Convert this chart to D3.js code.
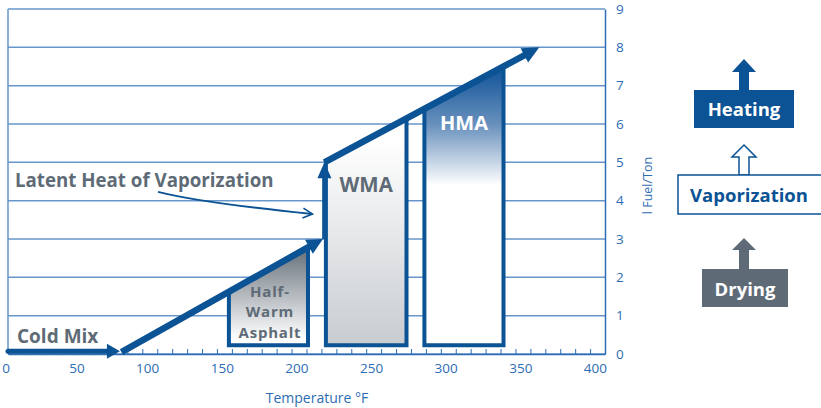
<!DOCTYPE html>
<html><head><meta charset="utf-8">
<script src="https://cdn.jsdelivr.net/npm/d3@7"></script>
<style>
body{margin:0;background:#fff;}
svg{display:block;font-family:"Open Sans",Lato,sans-serif;}
</style></head>
<body><svg id="c" width="821" height="408"></svg>
<script>
// ---- data ----
const xTicks = [0,50,100,150,200,250,300,350,400];
const yTicks = [0,1,2,3,4,5,6,7,8,9];
const xMinorTicks = d3.range(0,401,10);
const coldMix = [[0,0.07],[75,0.07]];
const lowerRamp = [[76,0.05],[211,3.0]];
const vaporRise = [[212,3.0],[212,5.0]];
const upperRamp = [[212,5.0],[356,8.0]];
const latentArrow = [[100.5,4.23],[130,4.1],[204,3.65]];
const boxNames = ["Half-Warm Asphalt","WMA","HMA"];
const boxX0 = [148,213,279];
const boxX1 = [201,267,332];
const boxTopL = [1.63,5.0,6.39];
const boxTopR = [2.81,6.14,7.50];
const boxBottom = 0.23;
const legendItems = ["Heating","Vaporization","Drying"];

// ---- layout ----
const svg = d3.select("#c");
const blue = "#0b5394", grid = "#6796cc", tickBlue = "#2d6db3", gray = "#5e6b76";
const x = d3.scaleLinear().domain([0,400]).range([8,605]);
const y = d3.scaleLinear().domain([0,9]).range([354,9]);

const defs = svg.append("defs");
function grad(id, y1, y2, stops){
  const g = defs.append("linearGradient").attr("id",id).attr("gradientUnits","userSpaceOnUse")
    .attr("x1",0).attr("x2",0).attr("y1",y1).attr("y2",y2);
  stops.forEach(s=>g.append("stop").attr("offset",s[0]).attr("stop-color",s[1]));
}
grad("gHWA", y(2.6), y(0.4), [[0,"#6f7982"],[1,"#ffffff"]]);
grad("gWMA", y(5.6), y(0.3), [[0,"#ffffff"],[1,"#c9cdd1"]]);
grad("gHMA", y(7.3), y(4.4), [[0,"#1a5a9c"],[0.45,"#6890bd"],[1,"#ffffff"]]);
const fills = ["url(#gHWA)","url(#gWMA)","url(#gHMA)"];

// gridlines
svg.append("g").selectAll("line").data(yTicks).join("line")
  .attr("x1",x(0)).attr("x2",x(400)).attr("y1",d=>y(d)).attr("y2",d=>y(d))
  .attr("stroke",grid).attr("stroke-width",1.5);
// left frame
svg.append("line").attr("x1",x(0)).attr("x2",x(0)).attr("y1",y(9)).attr("y2",y(0))
  .attr("stroke",grid).attr("stroke-width",1.5);

// x axis
const xa = svg.append("g").attr("transform",`translate(0,${y(0)})`)
  .call(d3.axisBottom(x).tickValues(xMinorTicks).tickSizeInner(-5).tickSizeOuter(0)
    .tickFormat(d=> xTicks.includes(d) ? d : ""));
xa.select(".domain").attr("stroke",tickBlue).attr("stroke-width",1.5);
xa.selectAll(".tick line").attr("stroke",tickBlue).attr("stroke-width",1);
xa.selectAll(".tick text").attr("fill",tickBlue).attr("font-size",13.5).attr("font-family","Open Sans")
  .attr("text-anchor","end").attr("dx",1.5).attr("y",9).attr("dy","0.71em");

// y axis (right)
const ya = svg.append("g").attr("transform",`translate(${x(400)},0)`)
  .call(d3.axisRight(y).tickValues(yTicks).tickSize(0).tickPadding(11));
ya.select(".domain").attr("stroke",tickBlue).attr("stroke-width",1.5);
ya.selectAll(".tick text").attr("fill",tickBlue).attr("font-size",13.5).attr("font-family","Open Sans");

// axis titles
svg.append("text").attr("x",317).attr("y",403).attr("text-anchor","middle")
  .attr("fill",tickBlue).attr("font-size",14).text("Temperature °F");
svg.append("text").attr("transform",`translate(652,${y(4.5)+4}) rotate(-90)`).attr("text-anchor","middle")
  .attr("fill",tickBlue).attr("font-size",12.5).text("l Fuel/Ton");

// boxes
svg.append("g").selectAll("path").data(boxNames).join("path")
  .attr("d",(d,i)=>`M${x(boxX0[i])},${y(boxBottom)}L${x(boxX0[i])},${y(boxTopL[i])}L${x(boxX1[i])},${y(boxTopR[i])}L${x(boxX1[i])},${y(boxBottom)}Z`)
  .attr("fill",(d,i)=>fills[i]).attr("stroke",blue).attr("stroke-width",4).attr("stroke-linejoin","miter");

// arrows
function arrow(pts, w, hl, hw, color){
  const p0 = [x(pts[0][0]),y(pts[0][1])], p1 = [x(pts[1][0]),y(pts[1][1])];
  const dx = p1[0]-p0[0], dy = p1[1]-p0[1], L = Math.hypot(dx,dy);
  const ux = dx/L, uy = dy/L;
  const b = [p1[0]-ux*hl, p1[1]-uy*hl];
  svg.append("line").attr("x1",p0[0]).attr("y1",p0[1]).attr("x2",b[0]+ux*2).attr("y2",b[1]+uy*2)
    .attr("stroke",color).attr("stroke-width",w);
  svg.append("path").attr("d",`M${p1[0]},${p1[1]}L${b[0]-uy*hw},${b[1]+ux*hw}L${b[0]+uy*hw},${b[1]-ux*hw}Z`)
    .attr("fill",color);
}
arrow(coldMix,5,13,7.5,blue);
arrow(lowerRamp,6.5,16,8,blue);
arrow(vaporRise,4.5,16,7,blue);
arrow(upperRamp,6.5,17,8,blue);
svg.append("circle").attr("cx",x(0)).attr("cy",y(coldMix[0][1])).attr("r",2.5).attr("fill",blue);

// latent heat arrow
const lp = latentArrow.map(d=>[x(d[0]),y(d[1])]);
svg.append("path").attr("d",`M${lp[0][0]},${lp[0][1]}Q${lp[1][0]},${lp[1][1]+6} ${lp[2][0]},${lp[2][1]}`)
  .attr("fill","none").attr("stroke",blue).attr("stroke-width",2);
svg.append("path").attr("d",`M${lp[2][0]-9},${lp[2][1]-6}L${lp[2][0]},${lp[2][1]}L${lp[2][0]-10},${lp[2][1]+4}`)
  .attr("fill","none").attr("stroke",blue).attr("stroke-width",1.6);

// labels
const lab = (t,xx,yy,opt={})=>svg.append("text").attr("x",xx).attr("y",yy).attr("font-weight",700)
  .attr("font-size",opt.s||17).attr("fill",opt.c||gray).attr("text-anchor",opt.a||"start").text(t);
lab("Latent Heat of Vaporization",15,187,{s:18.7});
lab("Cold Mix",17,343,{s:19});
const hwa = svg.append("text").attr("font-weight",700).attr("font-size",15).attr("fill",gray)
  .attr("letter-spacing",0.8).attr("text-anchor","middle");
["Half-","Warm","Asphalt"].forEach((t,i)=>hwa.append("tspan")
  .attr("x",(x(boxX0[0])+x(boxX1[0]))/2+1.5).attr("y",296.5+i*20.5).text(t));
lab("WMA",(x(boxX0[1])+x(boxX1[1]))/2,192,{s:20.5,a:"middle"});
lab("HMA",(x(boxX0[2])+x(boxX1[2]))/2,130,{s:20,a:"middle",c:"#ffffff"});

// legend
const lg = svg.append("g");
const cx = 744;
function legArrow(tipY, baseY, bottomY, fill, stroke){
  lg.append("path").attr("d",`M${cx},${tipY}L${cx+12},${baseY}L${cx+5},${baseY}L${cx+5},${bottomY}L${cx-5},${bottomY}L${cx-5},${baseY}L${cx-12},${baseY}Z`)
    .attr("fill",fill).attr("stroke",stroke||"none").attr("stroke-width",1.5);
}
legArrow(59,72,90,blue);
lg.append("rect").attr("x",694).attr("y",90).attr("width",100).attr("height",38).attr("fill",blue);
lg.append("text").attr("x",cx).attr("y",116).attr("text-anchor","middle").attr("fill","#fff")
  .attr("font-weight",700).attr("font-size",18.5).text(legendItems[0]);

legArrow(145,157,175,"#fff",blue);
lg.append("rect").attr("x",678).attr("y",175).attr("width",150).attr("height",39).attr("fill","#fff")
  .attr("stroke",blue).attr("stroke-width",1.5);
lg.append("text").attr("x",749).attr("y",202).attr("text-anchor","middle").attr("fill",blue)
  .attr("font-weight",700).attr("font-size",18.5).text(legendItems[1]);

legArrow(238,250,269,gray);
lg.append("rect").attr("x",702).attr("y",269).attr("width",86).attr("height",38).attr("fill",gray);
lg.append("text").attr("x",745).attr("y",296).attr("text-anchor","middle").attr("fill","#fff")
  .attr("font-weight",700).attr("font-size",18.5).text(legendItems[2]);
</script></body></html>
